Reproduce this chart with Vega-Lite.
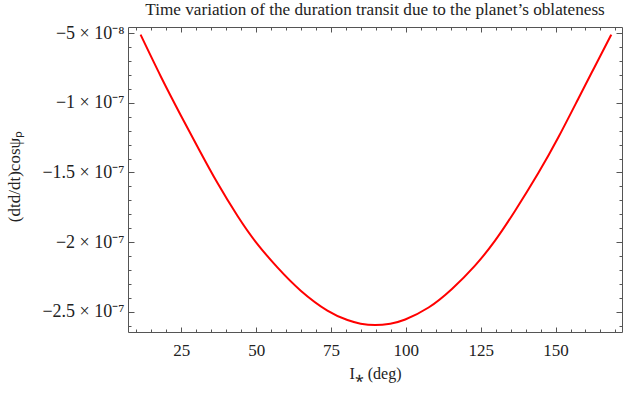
{
  "$schema": "https://vega.github.io/schema/vega-lite/v6.json",
  "width": 494,
  "height": 305,
  "autosize": {"type": "none"},
  "padding": {"left": 128, "top": 27, "right": 1, "bottom": 61},
  "background": "white",
  "config": {
    "view": {"stroke": null},
    "font": "Liberation Serif",
    "axis": {"grid": false, "domainColor": "#555555", "tickColor": "#555555", "labelColor": "#222222", "titleColor": "#222222", "labelFont": "Liberation Serif", "titleFont": "Liberation Serif", "titleFontWeight": "normal", "labelFontSize": 17, "titleFontSize": 16}
  },
  "title": {"text": "Time variation of the duration transit due to the planet’s oblateness", "font": "Liberation Serif", "fontSize": 17.2, "fontWeight": "normal", "color": "#222222", "anchor": "middle", "baseline": "alphabetic", "offset": -8},
  "data": {"values": [
    {"I": 11.4, "v": -5.1e-8},
    {"I": 18.2, "v": -8.12e-8},
    {"I": 24.9, "v": -1.092e-7},
    {"I": 31.0, "v": -1.338e-7},
    {"I": 37.1, "v": -1.576e-7},
    {"I": 43.8, "v": -1.813e-7},
    {"I": 49.9, "v": -2.0e-7},
    {"I": 57.1, "v": -2.182e-7},
    {"I": 64.9, "v": -2.349e-7},
    {"I": 73.8, "v": -2.492e-7},
    {"I": 80.5, "v": -2.56e-7},
    {"I": 84.9, "v": -2.586e-7},
    {"I": 89.8, "v": -2.596e-7},
    {"I": 94.8, "v": -2.586e-7},
    {"I": 99.8, "v": -2.556e-7},
    {"I": 107.6, "v": -2.47e-7},
    {"I": 115.4, "v": -2.337e-7},
    {"I": 123.1, "v": -2.169e-7},
    {"I": 129.8, "v": -1.99e-7},
    {"I": 136.5, "v": -1.775e-7},
    {"I": 144.2, "v": -1.506e-7},
    {"I": 150.9, "v": -1.249e-7},
    {"I": 157.6, "v": -9.7e-8},
    {"I": 163.1, "v": -7.4e-8},
    {"I": 168.6, "v": -5.1e-8}
  ]},
  "layer": [
    {
      "mark": {"type": "line", "color": "#ff0000", "strokeWidth": 2, "interpolate": "natural", "clip": true},
      "encoding": {
        "x": {"field": "I", "type": "quantitative",
          "scale": {"domain": [7.2, 172.2], "nice": false, "zero": false},
          "axis": {"orient": "bottom", "title": "I⁎ (deg)", "titlePadding": 7,
            "values": [10,15,20,25,30,35,40,45,50,55,60,65,70,75,80,85,90,95,100,105,110,115,120,125,130,135,140,145,150,155,160,165,170],
            "labelExpr": "datum.value % 25 == 0 ? datum.label : ''",
            "tickSize": {"condition": {"test": "datum.value % 25 == 0", "value": -5}, "value": -3},
            "labelPadding": 15}},
        "y": {"field": "v", "type": "quantitative",
          "scale": {"domain": [-2.646e-7, -4.55e-8], "nice": false, "zero": false},
          "axis": {"orient": "left", "title": "(dtd/dt)cosψₚ", "titleX": -114, "titleY": 149, "titleBaseline": "middle", "titleAlign": "center", "titleAngle": -90, "titleFontSize": 17,
            "labelFontSize": 18,
            "values": [-2.6e-7,-2.5e-7,-2.4e-7,-2.3e-7,-2.2e-7,-2.1e-7,-2e-7,-1.9e-7,-1.8e-7,-1.7e-7,-1.6e-7,-1.5e-7,-1.4e-7,-1.3e-7,-1.2e-7,-1.1e-7,-1e-7,-9e-8,-8e-8,-7e-8,-6e-8,-5e-8],
            "labelExpr": "round(datum.value*1e9) == -50 ? '−5 × 10⁻⁸' : round(datum.value*1e9) == -100 ? '−1 × 10⁻⁷' : round(datum.value*1e9) == -150 ? '−1.5 × 10⁻⁷' : round(datum.value*1e9) == -200 ? '−2 × 10⁻⁷' : round(datum.value*1e9) == -250 ? '−2.5 × 10⁻⁷' : ''",
            "tickSize": {"condition": {"test": "round(datum.value*1e9) % 50 == 0", "value": -6}, "value": -3},
            "labelPadding": 10}}
      }
    },
    {
      "mark": {"type": "line", "strokeOpacity": 0},
      "encoding": {
        "x": {"field": "I", "type": "quantitative",
          "scale": {"domain": [7.2, 172.2], "nice": false, "zero": false},
          "axis": {"orient": "top", "title": null, "labels": false,
            "values": [10,15,20,25,30,35,40,45,50,55,60,65,70,75,80,85,90,95,100,105,110,115,120,125,130,135,140,145,150,155,160,165,170],
            "tickSize": {"condition": {"test": "datum.value % 25 == 0", "value": -5}, "value": -3}}},
        "y": {"field": "v", "type": "quantitative",
          "scale": {"domain": [-2.646e-7, -4.55e-8], "nice": false, "zero": false},
          "axis": {"orient": "right", "title": null, "labels": false,
            "values": [-2.6e-7,-2.5e-7,-2.4e-7,-2.3e-7,-2.2e-7,-2.1e-7,-2e-7,-1.9e-7,-1.8e-7,-1.7e-7,-1.6e-7,-1.5e-7,-1.4e-7,-1.3e-7,-1.2e-7,-1.1e-7,-1e-7,-9e-8,-8e-8,-7e-8,-6e-8,-5e-8],
            "tickSize": {"condition": {"test": "round(datum.value*1e9) % 50 == 0", "value": -6}, "value": -3}}}
      }
    }
  ],
  "resolve": {"axis": {"x": "independent", "y": "independent"}}
}
